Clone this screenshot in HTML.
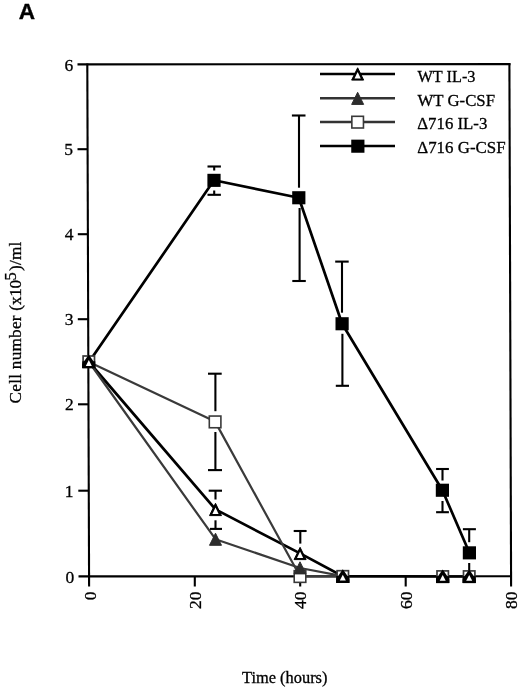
<!DOCTYPE html>
<html>
<head>
<meta charset="utf-8">
<style>
html,body{margin:0;padding:0;background:#fff;}
body{width:520px;height:689px;overflow:hidden;}
svg{display:block;}
.s{font-family:"Liberation Serif",serif;fill:#000;stroke:#000;stroke-width:0.3px;}
</style>
</head>
<body>
<svg width="520" height="689" viewBox="0 0 520 689" style="filter:blur(0.3px)">
<defs>
  <g id="otri"><polygon points="0,-6.1 6.0,6.2 -6.0,6.2" fill="#000" stroke="#000" stroke-width="1" stroke-linejoin="round"/><polygon points="0,-1.8 3.1,4.6 -3.1,4.6" fill="#fff"/></g>
  <g id="gtri"><polygon points="0,-6.0 6.0,6.1 -6.0,6.1" fill="#2c2c2c" stroke="#2c2c2c" stroke-width="1" stroke-linejoin="round"/></g>
  <g id="osq"><rect x="-5.8" y="-5.85" width="11.6" height="11.7" fill="#fff" stroke="#3a3a3a" stroke-width="1.6"/></g>
  <clipPath id="zcc"><rect x="-6.6" y="-7.5" width="13.2" height="14.3"/></clipPath>
  <g id="zc"><rect x="-5.7" y="-5.6" width="11.4" height="11.3" fill="#fff" stroke="#3a3a3a" stroke-width="1.7"/>
    <g clip-path="url(#zcc)"><polygon points="0,-7.1 9.5,6.6 -9.5,6.6" fill="#000"/></g>
    <rect x="-6.5" y="-0.3" width="13" height="6.9" fill="#000"/>
    <polygon points="0,-1.5 3.0,4.3 -3.0,4.3" fill="#fff"/></g>
  <g id="bsq"><rect x="-6.6" y="-6.5" width="13.2" height="13.1" fill="#000"/></g>
</defs>

<!-- Panel letter -->
<text x="18.8" y="19.2" font-family="Liberation Sans" font-weight="bold" font-size="22.6" stroke="#000" stroke-width="0.4">A</text>

<!-- Frame -->
<g stroke="#000" stroke-width="2.1" fill="none" stroke-linecap="butt">
  <line x1="77.5" y1="64.4" x2="510.5" y2="64.1"/>
  <line x1="87.3" y1="63.4" x2="89.1" y2="586.5"/>
  <line x1="509.4" y1="63.2" x2="511.1" y2="586.5"/>
  <line x1="78.5" y1="576.4" x2="511" y2="576.3"/>
  <!-- y ticks -->
  <line x1="77.5" y1="149.2" x2="88" y2="149.2"/>
  <line x1="77.8" y1="234.2" x2="88" y2="234.2"/>
  <line x1="77.8" y1="319.2" x2="88.5" y2="319.2"/>
  <line x1="78" y1="404.3" x2="88.5" y2="404.3"/>
  <line x1="78.3" y1="490.7" x2="89" y2="490.7"/>
  <!-- x ticks -->
  <line x1="194.8" y1="576" x2="194.8" y2="586.5"/>
  <line x1="300.2" y1="576" x2="300.2" y2="586.5"/>
  <line x1="405.7" y1="576" x2="405.7" y2="586.5"/>
</g>

<!-- y tick labels -->
<g class="s" font-size="17.5" text-anchor="end">
  <text x="73.2" y="70.6">6</text>
  <text x="72.9" y="155">5</text>
  <text x="73.4" y="240">4</text>
  <text x="73.6" y="325">3</text>
  <text x="73.8" y="410">2</text>
  <text x="73.4" y="496.5">1</text>
  <text x="74.2" y="583.2">0</text>
</g>

<!-- x tick labels (rotated) -->
<g class="s" font-size="17.5" text-anchor="end">
  <text transform="translate(96,591.5) rotate(-90)">0</text>
  <text transform="translate(201,591.5) rotate(-90)">20</text>
  <text transform="translate(305.6,591.5) rotate(-90)">40</text>
  <text transform="translate(412,591.5) rotate(-90)">60</text>
  <text transform="translate(516.6,591.5) rotate(-90)">80</text>
</g>

<!-- axis titles -->
<g class="s" font-size="17.2" letter-spacing="0.25" transform="translate(21.2,0) rotate(-90)">
  <text x="-403.4">Cell number (</text>
  <text x="-304.9" letter-spacing="-0.4">x10</text>
  <text x="-280.6" y="-5.2" font-size="16.5">5</text>
  <text x="-271">)/ml</text>
</g>
<text class="s" font-size="16.4" x="242" y="683">Time (hours)</text>

<!-- Legend -->
<g stroke-width="2.5" fill="none">
  <line x1="320" y1="74" x2="395" y2="74" stroke="#000"/>
  <line x1="320" y1="98.2" x2="395" y2="98.2" stroke="#333" stroke-width="2.4"/>
  <line x1="320" y1="122" x2="395" y2="122" stroke="#333" stroke-width="2.4"/>
  <line x1="320" y1="146" x2="395" y2="146" stroke="#000"/>
</g>
<use href="#otri" x="357.65" y="73.9"/>
<use href="#gtri" x="357.65" y="98.3"/>
<use href="#osq" x="357.65" y="122.15"/>
<use href="#bsq" x="357.85" y="146.15"/>
<g class="s" font-size="16.6">
  <text x="417.5" y="81.8" textLength="58" lengthAdjust="spacingAndGlyphs">WT IL-3</text>
  <text x="417.5" y="105.5" textLength="77.5" lengthAdjust="spacingAndGlyphs">WT G-CSF</text>
  <text x="417.3" y="129.3" textLength="70" lengthAdjust="spacingAndGlyphs">&#916;716 IL-3</text>
  <text x="417.3" y="153" textLength="88.3" lengthAdjust="spacingAndGlyphs">&#916;716 G-CSF</text>
</g>

<!-- Series lines -->
<g fill="none" stroke-linejoin="round">
  <!-- Δ716 G-CSF -->
  <polyline stroke="#000" stroke-width="2.7" points="89,362 214,180.3 298.8,197.7 342.1,323.7 442.4,490.2 469.4,552.8"/>
  <!-- WT IL-3 -->
  <polyline stroke="#000" stroke-width="2.7" points="89,362 215.5,509.4 300.1,553.4 342.7,576.2 442.6,576.5 469.4,576.5"/>
  <!-- Δ716 IL-3 -->
  <polyline stroke="#3a3a3a" stroke-width="2.2" points="89,362 215.1,421.6 300,576.3 342.7,576.3"/>
  <!-- WT G-CSF -->
  <polyline stroke="#3a3a3a" stroke-width="2.2" points="89,362 215.5,539.2 300,568 342.7,576.2"/>
</g>

<!-- Error bars -->
<g stroke="#000" stroke-width="2.1" fill="none">
  <!-- Δ716 G-CSF @24 -->
  <line x1="214.2" y1="166.5" x2="214.2" y2="170.5"/><line x1="207.5" y1="166.5" x2="220.9" y2="166.5"/>
  <line x1="214.2" y1="190.5" x2="214.2" y2="194.8"/><line x1="207.5" y1="194.8" x2="220.9" y2="194.8"/>
  <!-- @40 -->
  <line x1="299" y1="115.5" x2="299" y2="187.7"/><line x1="291.9" y1="115.5" x2="305.5" y2="115.5"/>
  <line x1="299.6" y1="208" x2="299.6" y2="281"/><line x1="292.3" y1="281" x2="305.8" y2="281"/>
  <!-- @48 -->
  <line x1="342" y1="261.6" x2="342" y2="312.7"/><line x1="335.2" y1="261.6" x2="348.7" y2="261.6"/>
  <line x1="342.4" y1="333.8" x2="342.4" y2="385.8"/><line x1="335.8" y1="385.8" x2="349" y2="385.8"/>
  <!-- @67 -->
  <line x1="442.5" y1="469" x2="442.5" y2="480.5"/><line x1="436.1" y1="469" x2="448.9" y2="469"/>
  <line x1="442.5" y1="501" x2="442.5" y2="512.2"/><line x1="436.1" y1="512.2" x2="448.9" y2="512.2"/>
  <!-- @72 -->
  <line x1="469.2" y1="529.2" x2="469.2" y2="542.2"/><line x1="462.9" y1="529.2" x2="475.9" y2="529.2"/>
  <line x1="469.2" y1="563" x2="469.2" y2="574"/>
  <!-- Δ716 IL-3 @24 -->
  <line x1="215.4" y1="373.7" x2="215.4" y2="411.2"/><line x1="208" y1="373.7" x2="221.7" y2="373.7"/>
  <line x1="215.4" y1="432" x2="215.4" y2="470.1"/><line x1="208" y1="470.1" x2="222" y2="470.1"/>
  <!-- WT IL-3 @24 -->
  <line x1="215.5" y1="490.7" x2="215.5" y2="499.5"/><line x1="208.7" y1="490.7" x2="222" y2="490.7"/>
  <line x1="215.5" y1="520.3" x2="215.5" y2="528.9"/><line x1="210" y1="528.9" x2="222" y2="528.9"/>
  <!-- WT IL-3 @40 -->
  <line x1="300.3" y1="531" x2="300.3" y2="543.6"/><line x1="293.7" y1="531" x2="306.6" y2="531"/>
</g>

<!-- Markers: Δ716 G-CSF -->
<use href="#bsq" x="214" y="180.3"/>
<use href="#bsq" x="298.8" y="197.7"/>
<use href="#bsq" x="342.1" y="323.7"/>
<use href="#bsq" x="442.4" y="490.2"/>
<use href="#bsq" x="469.4" y="552.8"/>
<!-- Δ716 IL-3 -->
<use href="#osq" x="215.1" y="421.9"/>
<use href="#osq" x="300" y="576.5"/>
<!-- WT G-CSF -->
<use href="#gtri" x="215.5" y="539.2"/>
<use href="#gtri" x="300" y="567.8"/>
<!-- WT IL-3 -->
<use href="#otri" x="215.5" y="509.4"/>
<use href="#otri" x="300.1" y="553.4"/>
<!-- overlapping clusters -->
<use href="#zc" x="88.8" y="361.6"/>
<use href="#zc" x="342.8" y="576.3"/>
<use href="#zc" x="442.7" y="576.5"/>
<use href="#zc" x="469.2" y="576.5"/>
</svg>
</body>
</html>
